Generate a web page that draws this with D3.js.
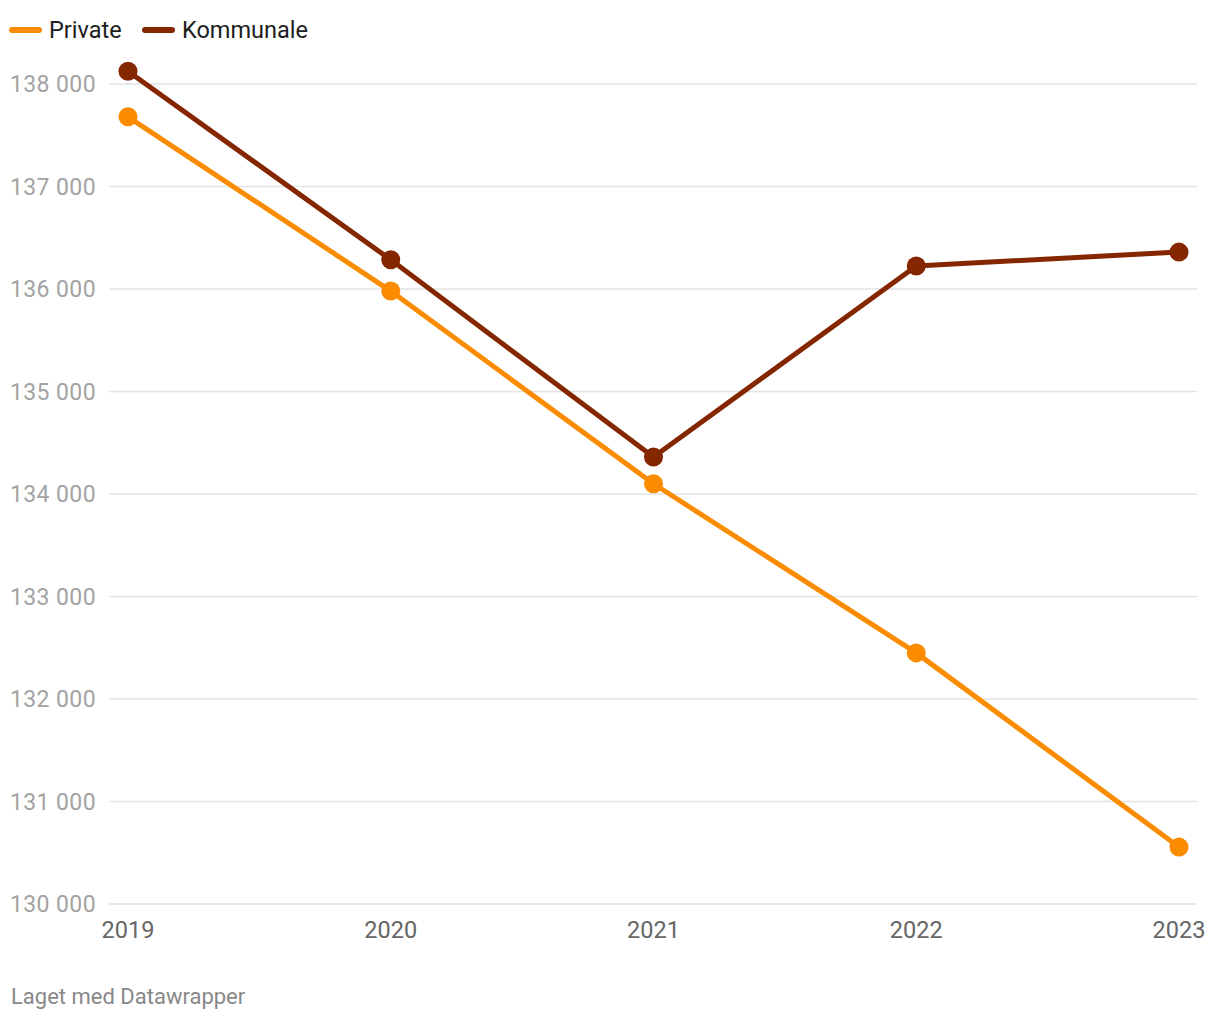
<!DOCTYPE html>
<html><head><meta charset="utf-8">
<script src="https://cdn.jsdelivr.net/npm/d3@7"></script>
<style>body{margin:0;background:#fff;font-family:Roboto,"Noto Sans",sans-serif;}</style>
</head><body><svg id="c" width="1220" height="1020"></svg>
<script>
const years = [2019, 2020, 2021, 2022, 2023];
const privateVals = [137680, 135980, 134100, 132450, 130555];
const kommunaleVals = [138125, 136285, 134360, 136225, 136360];
const yTicks = [130000, 131000, 132000, 133000, 134000, 135000, 136000, 137000, 138000];
const seriesNames = ["Private", "Kommunale"];
const seriesColors = ["#fb8c00", "#842600"];

const svg = d3.select("#c");
const x = d3.scalePoint().domain(years).range([128, 1179]);
const y = d3.scaleLinear().domain([130000, 138000]).range([904, 84]);

const g = svg.append("g");
g.selectAll("line.grid").data(yTicks).join("line")
  .attr("x1", 109).attr("x2", 1197)
  .attr("y1", d => y(d)).attr("y2", d => y(d))
  .attr("stroke", "#e3e3e3").attr("stroke-width", 1.5);
g.selectAll("text.yl").data(yTicks).join("text")
  .attr("x", 96).attr("y", d => y(d)).attr("dy", "0.35em")
  .attr("text-anchor", "end").attr("fill", "#a3a3a3")
  .attr("font-size", 23).attr("letter-spacing", 0.4)
  .text(d => d3.format(",")(d).replace(/,/g, " "));

g.selectAll("text.xl").data(years).join("text")
  .attr("x", d => x(d)).attr("y", 938)
  .attr("text-anchor", "middle").attr("fill", "#666")
  .attr("font-size", 23.5).text(d => d);

const series = [privateVals, kommunaleVals];
const line = d3.line().x((d, i) => x(years[i])).y(d => y(d));
series.forEach((vals, si) => {
  svg.append("path").datum(vals).attr("d", line)
    .attr("fill", "none").attr("stroke", seriesColors[si])
    .attr("stroke-width", 5).attr("stroke-linejoin", "round");
  svg.append("g").selectAll("circle").data(vals).join("circle")
    .attr("cx", (d, i) => x(years[i])).attr("cy", d => y(d))
    .attr("r", 9.5).attr("fill", seriesColors[si]);
});

const legX = [12, 145];
seriesNames.forEach((n, i) => {
  svg.append("line").attr("x1", legX[i]).attr("x2", legX[i] + 27)
    .attr("y1", 30).attr("y2", 30).attr("stroke", seriesColors[i])
    .attr("stroke-width", 6).attr("stroke-linecap", "round");
  svg.append("text").attr("x", legX[i] + 37).attr("y", 38)
    .attr("fill", "#1d1d1d").attr("font-size", 23.5).text(n);
});

svg.append("text").attr("x", 11).attr("y", 1004)
  .attr("fill", "#888").attr("font-size", 22).text("Laget med Datawrapper");
</script>
</body></html>
